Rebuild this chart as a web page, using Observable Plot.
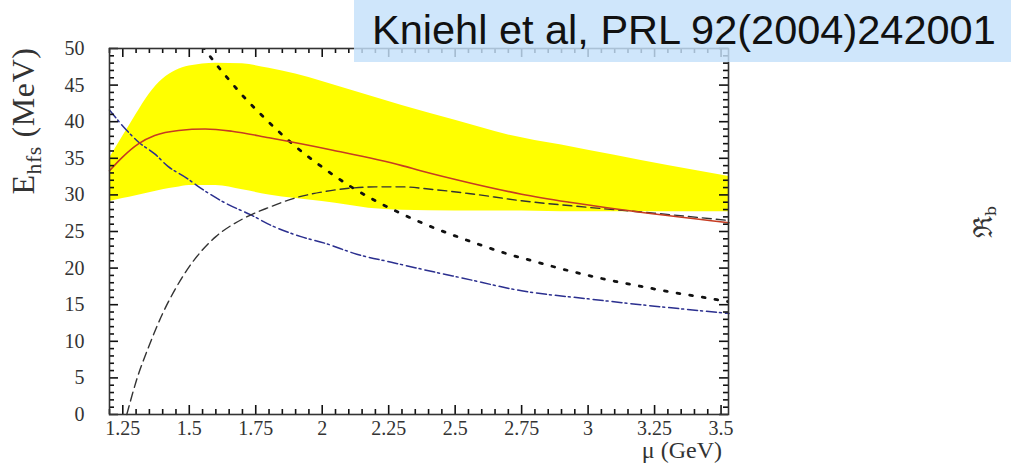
<!DOCTYPE html>
<html>
<head>
<meta charset="utf-8">
<script src="https://cdn.jsdelivr.net/npm/d3@7"></script>
<script src="https://cdn.jsdelivr.net/npm/@observablehq/plot@0.6"></script>
<style>
  html, body { margin: 0; padding: 0; background: #ffffff; }
  #wrap { position: relative; width: 1011px; height: 465px; overflow: hidden; background: #ffffff; }
  #wrap svg { position: absolute; left: 0; top: 0; }
  #wrap svg text { font-family: "Liberation Serif", "Times New Roman", serif; }
  .box { position: absolute; left: 354px; top: 0; width: 657px; height: 62px; background: rgba(197, 224, 250, 0.82); }
  .boxtext { position: absolute; left: 372px; top: 9px; font-family: "Liberation Sans", Arial, sans-serif; font-size: 41.5px; line-height: 41.5px; color: #111; white-space: nowrap; }
  .ytitle { position: absolute; left: 26px; top: 121px; transform: translate(-50%, -50%) rotate(-90deg); font-family: "Liberation Serif", "Times New Roman", serif; font-size: 32px; color: #333; white-space: nowrap; letter-spacing: 0.6px; }
  .ytitle sub { font-size: 0.68em; vertical-align: -0.35em; }
  .xtitle { position: absolute; right: 289px; top: 437px; font-family: "Liberation Serif", "Times New Roman", serif; font-size: 24px; line-height: 26px; color: #333; white-space: nowrap; }
  .rfrag { position: absolute; left: 982px; top: 222px; transform: translate(-50%, -50%) rotate(-90deg); font-family: "DejaVu Serif", serif; font-size: 26px; color: #333; white-space: nowrap; }
  .rfrag sub { font-size: 0.6em; vertical-align: -0.3em; }
</style>
</head>
<body>
<div id="wrap"></div>
<script>
// ---- data ----
const xMajorTicks = [1.25, 1.5, 1.75, 2, 2.25, 2.5, 2.75, 3, 3.25, 3.5];
const xMinorTicks = [1.2, 1.3, 1.35, 1.4, 1.45, 1.55, 1.6, 1.65, 1.7, 1.8, 1.85, 1.9, 1.95, 2.05, 2.1, 2.15, 2.2, 2.3, 2.35, 2.4, 2.45, 2.55, 2.6, 2.65, 2.7, 2.8, 2.85, 2.9, 2.95, 3.05, 3.1, 3.15, 3.2, 3.3, 3.35, 3.4, 3.45];
const yMajorTicks = [0, 5, 10, 15, 20, 25, 30, 35, 40, 45, 50];
const yMinorTicks = [1, 2, 3, 4, 6, 7, 8, 9, 11, 12, 13, 14, 16, 17, 18, 19, 21, 22, 23, 24, 26, 27, 28, 29, 31, 32, 33, 34, 36, 37, 38, 39, 41, 42, 43, 44, 46, 47, 48, 49];

// yellow uncertainty band
const bandX    = [1.2, 1.25, 1.3, 1.35, 1.4, 1.45, 1.5, 1.6, 1.7, 1.8, 1.9, 2.0, 2.1, 2.2, 2.3, 2.5, 2.7, 2.9, 3.1, 3.3, 3.53];
const bandHigh = [35.0, 38.0, 41.0, 43.8, 45.8, 47.0, 47.6, 48.0, 47.9, 47.3, 46.5, 45.5, 44.4, 43.3, 42.2, 40.2, 38.2, 36.8, 35.4, 34.0, 32.5];
const bandLow  = [29.1, 29.5, 29.9, 30.3, 30.7, 31.0, 31.3, 31.3, 30.7, 30.0, 29.5, 29.1, 28.6, 28.1, 27.9, 27.8, 27.8, 27.7, 27.7, 27.7, 27.7];

// red solid (central curve)
const redX = [1.2, 1.25, 1.31, 1.37, 1.46, 1.56, 1.66, 1.8, 2.04, 2.3, 2.37, 2.56, 2.75, 2.93, 3.12, 3.53];
const redY = [33.3, 35.2, 37.0, 38.1, 38.8, 39.0, 38.7, 37.8, 36.1, 34.0, 33.3, 31.6, 30.1, 29.0, 28.0, 26.2];

// blue dash-dot
const blueX = [1.2, 1.26, 1.31, 1.37, 1.42, 1.49, 1.54, 1.64, 1.73, 1.81, 1.92, 2.01, 2.13, 2.26, 2.43, 2.52, 2.75, 3.0, 3.25, 3.53];
const blueY = [41.6, 39.0, 37.2, 35.6, 33.9, 32.3, 31.0, 28.8, 27.3, 25.8, 24.3, 23.4, 21.9, 20.8, 19.4, 18.7, 16.9, 15.8, 14.8, 13.8];

// black dashed
const dashX = [1.265, 1.3, 1.35, 1.4, 1.45, 1.5, 1.55, 1.6, 1.7, 1.8, 1.9, 2.0, 2.1, 2.2, 2.3, 2.4, 2.55, 2.75, 3.0, 3.25, 3.53];
const dashY = [0.0, 4.5, 9.5, 13.8, 17.3, 20.2, 22.5, 24.3, 26.7, 28.3, 29.6, 30.4, 30.9, 31.1, 31.1, 30.8, 30.2, 29.2, 28.3, 27.5, 26.5];

// black dotted
const dotX = [1.55, 1.6, 1.65, 1.7, 1.75, 1.8, 1.85, 1.9, 2.0, 2.1, 2.2, 2.3, 2.4, 2.5, 2.6, 2.7, 2.8, 2.9, 3.0, 3.1, 3.2, 3.3, 3.4, 3.53];
const dotY = [50.3, 47.9, 45.7, 43.6, 41.7, 39.9, 38.2, 36.6, 33.8, 31.3, 29.2, 27.4, 25.8, 24.4, 23.1, 21.9, 20.9, 19.9, 19.0, 18.2, 17.5, 16.8, 16.2, 15.4];

// ---- build tables ----
const band = bandX.map((x, i) => ({x, lo: bandLow[i], hi: bandHigh[i]}));
const toPts = (xs, ys) => xs.map((x, i) => ({x, y: ys[i]}));
const red = toPts(redX, redY);
const blue = toPts(blueX, blueY);
const dashed = toPts(dashX, dashY);
const dotted = toPts(dotX, dotY);

const W = 1011, H = 465, ML = 109, MR = 283, MT = 48, MB = 51;
const PW = W - ML - MR, PH = H - MT - MB;
const tickColor = "#111";
const majLen = 9, minLen = 5, tw = 1.6;

const chart = Plot.plot({
  width: W,
  height: H,
  marginLeft: ML,
  marginRight: MR,
  marginTop: MT,
  marginBottom: MB,
  x: {domain: [1.2, 3.528]},
  y: {domain: [0, 50]},
  style: {fontSize: "20px", color: "#333"},
  marks: [
    Plot.areaY(band, {x: "x", y1: "lo", y2: "hi", fill: "#ffff00", curve: "monotone-x"}),
    Plot.line(blue, {x: "x", y: "y", stroke: "#2b2f8f", strokeWidth: 1.5, strokeDasharray: "10 3 2 4", curve: "monotone-x"}),
    Plot.line(dotted, {x: "x", y: "y", stroke: "#111", strokeWidth: 2.8, strokeDasharray: "2.8 10", curve: "monotone-x", clip: true}),
    Plot.line(dashed, {x: "x", y: "y", stroke: "#333", strokeWidth: 1.4, strokeDasharray: "9 5", curve: "monotone-x"}),
    Plot.line(red, {x: "x", y: "y", stroke: "#c63c22", strokeWidth: 1.6, curve: "monotone-x"}),
    // inward ticks on all four sides
    Plot.tickY(yMajorTicks, {y: d => d, insetRight: PW - majLen, stroke: tickColor, strokeWidth: tw}),
    Plot.tickY(yMinorTicks, {y: d => d, insetRight: PW - minLen, stroke: tickColor, strokeWidth: tw}),
    Plot.tickY(yMajorTicks, {y: d => d, insetLeft: PW - majLen, stroke: tickColor, strokeWidth: tw}),
    Plot.tickY(yMinorTicks, {y: d => d, insetLeft: PW - minLen, stroke: tickColor, strokeWidth: tw}),
    Plot.tickX(xMajorTicks, {x: d => d, insetTop: PH - majLen, stroke: tickColor, strokeWidth: tw}),
    Plot.tickX(xMinorTicks, {x: d => d, insetTop: PH - minLen, stroke: tickColor, strokeWidth: tw}),
    Plot.tickX(xMajorTicks, {x: d => d, insetBottom: PH - majLen, stroke: tickColor, strokeWidth: tw}),
    Plot.tickX(xMinorTicks, {x: d => d, insetBottom: PH - minLen, stroke: tickColor, strokeWidth: tw}),
    Plot.frame({strokeWidth: 1.6}),
    // tick labels
    Plot.axisY(yMajorTicks, {anchor: "left", tickSize: 0, tickPadding: 25, label: null, tickFormat: d => String(d)}),
    Plot.axisX(xMajorTicks, {anchor: "bottom", tickSize: 0, tickPadding: 6, label: null, tickFormat: d => String(d)})
  ]
});

const wrap = document.getElementById("wrap");
wrap.appendChild(chart);

const yt = document.createElement("div");
yt.className = "ytitle";
yt.innerHTML = "E<sub>hfs</sub> (MeV)";
wrap.appendChild(yt);

const xt = document.createElement("div");
xt.className = "xtitle";
xt.textContent = "μ (GeV)";
wrap.appendChild(xt);

const rf = document.createElement("div");
rf.className = "rfrag";
rf.innerHTML = "ℜ<sub>b</sub>";
wrap.appendChild(rf);

const box = document.createElement("div");
box.className = "box";
wrap.appendChild(box);

const bt = document.createElement("div");
bt.className = "boxtext";
bt.textContent = "Kniehl et al, PRL 92(2004)242001";
wrap.appendChild(bt);
</script>
</body>
</html>
